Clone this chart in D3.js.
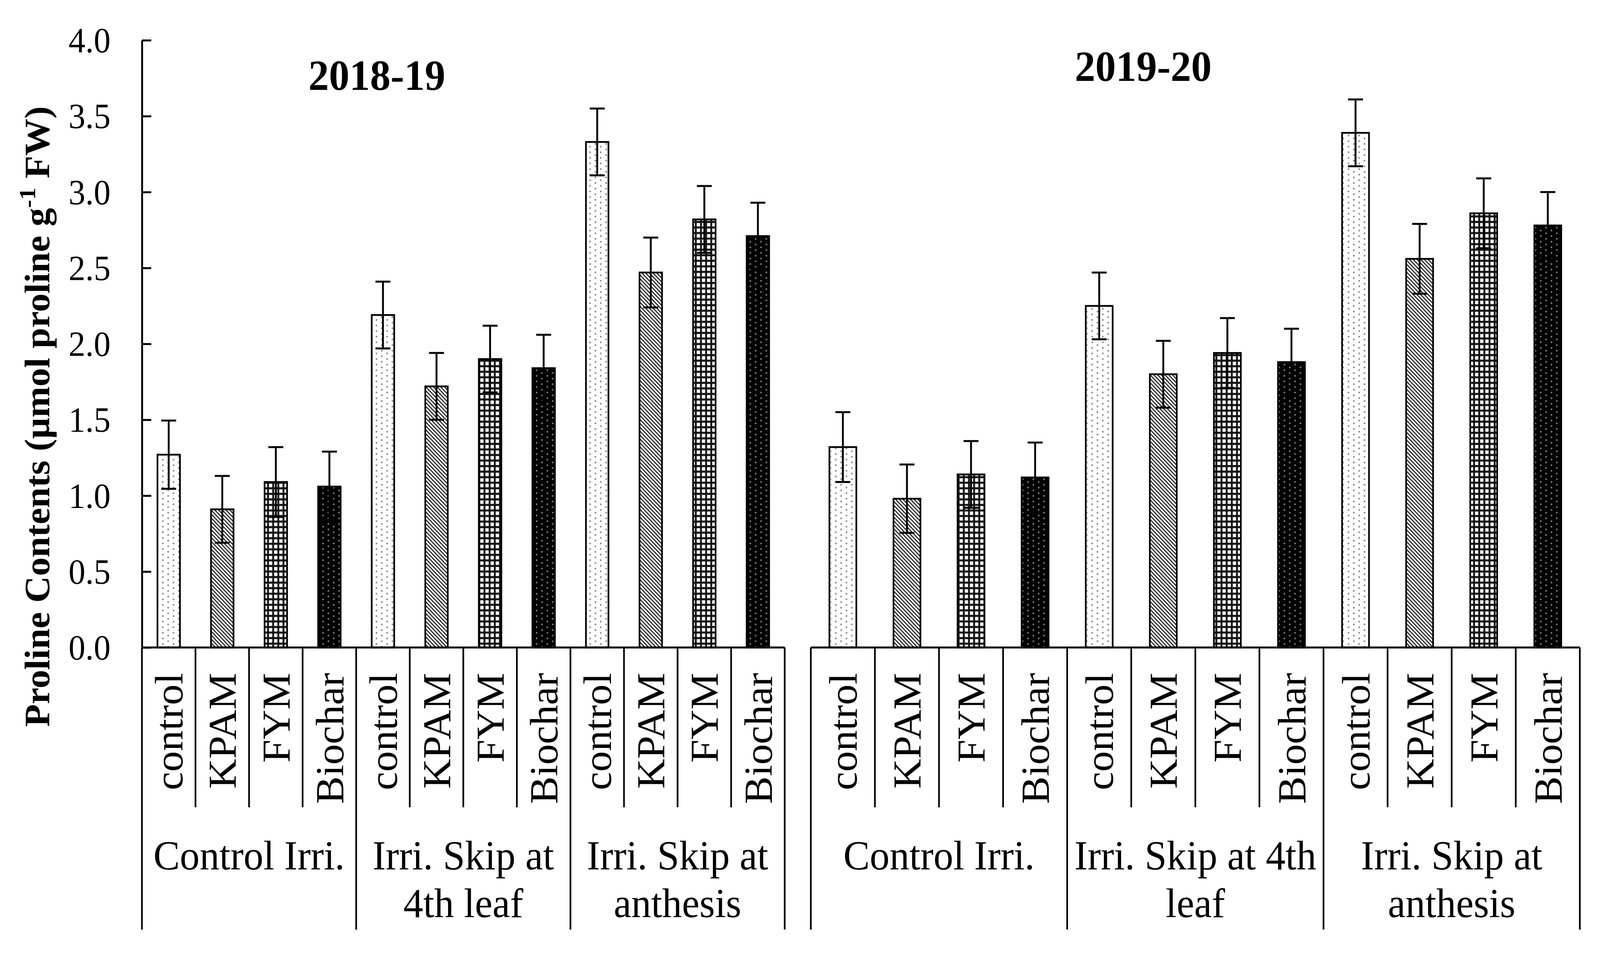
<!DOCTYPE html>
<html>
<head>
<meta charset="utf-8">
<script src="https://cdn.jsdelivr.net/npm/d3@7"></script>
<style>
  html, body { margin: 0; padding: 0; background: #fff; overflow: hidden; }
  svg { display: block; }
  text { font-family: "Liberation Serif", "Times New Roman", serif; fill: #000; }
</style>
</head>
<body>
<div id="chart"></div>
<script>
// data
var treatments = ["control", "KPAM", "FYM", "Biochar"];
var years = ["2018-19", "2019-20"];
var groups2018 = [["Control Irri."], ["Irri. Skip at", "4th leaf"], ["Irri. Skip at", "anthesis"]];
var groups2019 = [["Control Irri."], ["Irri. Skip at 4th", "leaf"], ["Irri. Skip at", "anthesis"]];
var proline2018 = [1.27, 0.91, 1.09, 1.06, 2.19, 1.72, 1.90, 1.84, 3.33, 2.47, 2.82, 2.71];
var se2018 = [0.225, 0.22, 0.23, 0.23, 0.22, 0.22, 0.22, 0.22, 0.22, 0.23, 0.22, 0.22];
var proline2019 = [1.32, 0.98, 1.14, 1.12, 2.25, 1.80, 1.94, 1.88, 3.39, 2.56, 2.86, 2.78];
var se2019 = [0.23, 0.225, 0.22, 0.23, 0.22, 0.22, 0.23, 0.22, 0.22, 0.23, 0.23, 0.22];
var yTicks = [0, 0.5, 1.0, 1.5, 2.0, 2.5, 3.0, 3.5, 4.0];
var fills = ["url(#dots)", "url(#hatch)", "url(#grid)", "url(#blackdots)"];

var svgWidth = 4284, svgHeight = 2444;
var baseY = 1657, topY = 103;
var catLineY = 2066, groupLineY = 2379;

// viewBox stretched to the whole window
var svg = d3.select("#chart").append("svg")
  .attr("viewBox", "0 0 " + svgWidth + " " + svgHeight)
  .attr("preserveAspectRatio", "none")
  .style("width", "100vw")
  .style("height", "100vh");

// fill patterns
var defs = svg.append("defs");
function dotPattern(id, bg, dot) {
  var p = defs.append("pattern").attr("id", id)
    .attr("patternUnits", "userSpaceOnUse")
    .attr("width", 28.6).attr("height", 14.3);
  p.append("rect").attr("width", 28.6).attr("height", 14.3).attr("fill", bg);
  p.append("circle").attr("cx", 7).attr("cy", 3.5).attr("r", 2.4).attr("fill", dot);
  p.append("circle").attr("cx", 21.3).attr("cy", 10.7).attr("r", 2.4).attr("fill", dot);
}
dotPattern("dots", "#fff", "#8c8c8c");
dotPattern("blackdots", "#000", "#7a7a7a");

var hatch = defs.append("pattern").attr("id", "hatch")
  .attr("patternUnits", "userSpaceOnUse")
  .attr("width", 10).attr("height", 10);
hatch.append("rect").attr("width", 10).attr("height", 10).attr("fill", "#fff");
hatch.append("path")
  .attr("d", "M-5,-5L15,15M-5,5L5,15M5,-5L15,5")
  .attr("stroke", "#222").attr("stroke-width", 3);

var grid = defs.append("pattern").attr("id", "grid")
  .attr("patternUnits", "userSpaceOnUse")
  .attr("width", 13.8).attr("height", 14.2);
grid.append("rect").attr("width", 13.8).attr("height", 14.2).attr("fill", "#fff");
grid.append("path")
  .attr("d", "M0,0H13.8M0,14.2H13.8M0,0V14.2M13.8,0V14.2")
  .attr("stroke", "#111").attr("stroke-width", 5);

var yScale = d3.scaleLinear().domain([0, 4]).range([baseY, topY]);

// y axis
var leftAxis = d3.axisLeft(yScale)
  .tickValues(yTicks)
  .tickSizeInner(-25)
  .tickSizeOuter(0)
  .tickPadding(84)
  .tickFormat(d3.format(".1f"));
var yAxisG = svg.append("g")
  .attr("transform", "translate(380,0)")
  .call(leftAxis);
yAxisG.selectAll("path, line").attr("stroke", "#000").attr("stroke-width", 5);
yAxisG.selectAll("text")
  .style("font-family", "Liberation Serif, Times New Roman, serif")
  .attr("font-size", 90)
  .attr("dy", "0.34em");

// y axis title
var yTitle = svg.append("text")
  .attr("transform", "translate(132,1066) rotate(-90)")
  .attr("text-anchor", "middle")
  .attr("font-weight", "bold")
  .attr("font-size", 95);
yTitle.append("tspan").text("Proline Contents (\u00b5mol proline g");
yTitle.append("tspan").attr("dy", -38).attr("font-size", 62).text("-1");
yTitle.append("tspan").attr("dy", 38).text(" FW)");

var panels = [
  { x0: 380, x1: 2101, titleX: 1009, titleY: 230, values: proline2018, errs: se2018, groups: groups2018 },
  { x0: 2171, x1: 4230, titleX: 3061, titleY: 207, values: proline2019, errs: se2019, groups: groups2019 }
];

panels.forEach(function(p, pi) {
  var cats = d3.range(p.values.length);
  var xScale = d3.scaleBand()
    .domain(cats)
    .range([p.x0, p.x1])
    .paddingInner(0.58)
    .paddingOuter(0.29);
  var step = xScale.step();
  var data = cats.map(function(i) {
    return { i: i, value: p.values[i], err: p.errs[i], treat: i % 4 };
  });
  var g = svg.append("g");

  // bars
  g.selectAll("rect.bar")
    .data(data)
    .enter()
    .append("rect")
      .attr("class", "bar")
      .attr("x", d => xScale(d.i))
      .attr("y", d => yScale(d.value))
      .attr("width", xScale.bandwidth())
      .attr("height", d => yScale(0) - yScale(d.value))
      .attr("fill", d => fills[d.treat])
      .attr("stroke", "#000")
      .attr("stroke-width", 4.5);

  // error bars
  var cap = 20;
  var eb = g.selectAll("g.err")
    .data(data)
    .enter()
    .append("g")
      .attr("class", "err")
      .attr("stroke", "#000")
      .attr("stroke-width", 5);
  eb.append("line")
    .attr("x1", d => xScale(d.i) + xScale.bandwidth() / 2)
    .attr("x2", d => xScale(d.i) + xScale.bandwidth() / 2)
    .attr("y1", d => yScale(d.value - d.err))
    .attr("y2", d => yScale(d.value + d.err));
  eb.append("line")
    .attr("x1", d => xScale(d.i) + xScale.bandwidth() / 2 - cap)
    .attr("x2", d => xScale(d.i) + xScale.bandwidth() / 2 + cap)
    .attr("y1", d => yScale(d.value + d.err))
    .attr("y2", d => yScale(d.value + d.err));
  eb.append("line")
    .attr("x1", d => xScale(d.i) + xScale.bandwidth() / 2 - cap)
    .attr("x2", d => xScale(d.i) + xScale.bandwidth() / 2 + cap)
    .attr("y1", d => yScale(d.value - d.err))
    .attr("y2", d => yScale(d.value - d.err));

  // category axis: baseline plus separators
  g.append("line")
    .attr("x1", p.x0).attr("x2", p.x1)
    .attr("y1", baseY).attr("y2", baseY)
    .attr("stroke", "#000").attr("stroke-width", 5);
  var bounds = d3.range(p.values.length + 1);
  g.selectAll("line.sep")
    .data(bounds)
    .enter()
    .append("line")
      .attr("class", "sep")
      .attr("x1", b => p.x0 + b * step)
      .attr("x2", b => p.x0 + b * step)
      .attr("y1", baseY)
      .attr("y2", b => b % 4 === 0 ? groupLineY : catLineY)
      .attr("stroke", "#000")
      .attr("stroke-width", 4.5);

  // treatment labels (rotated)
  g.selectAll("text.cat")
    .data(data)
    .enter()
    .append("text")
      .attr("class", "cat")
      .attr("transform", d => "translate(" + (xScale(d.i) + xScale.bandwidth() / 2 + 37) + "," + 1722 + ") rotate(-90)")
      .attr("text-anchor", "end")
      .attr("font-size", 106)
      .text(d => treatments[d.treat]);

  // irrigation group labels
  p.groups.forEach(function(lines, gi) {
    var cx = p.x0 + (gi * 4 + 2) * step;
    var t = g.append("text")
      .attr("text-anchor", "middle")
      .attr("font-size", 106);
    lines.forEach(function(line, li) {
      t.append("tspan")
        .attr("x", cx)
        .attr("y", 2225 + li * 122)
        .text(line);
    });
  });

  // year title
  svg.append("text")
    .attr("x", p.titleX)
    .attr("y", p.titleY)
    .attr("text-anchor", "middle")
    .attr("font-weight", "bold")
    .attr("font-size", 110)
    .text(years[pi]);
});
</script>
</body>
</html>
